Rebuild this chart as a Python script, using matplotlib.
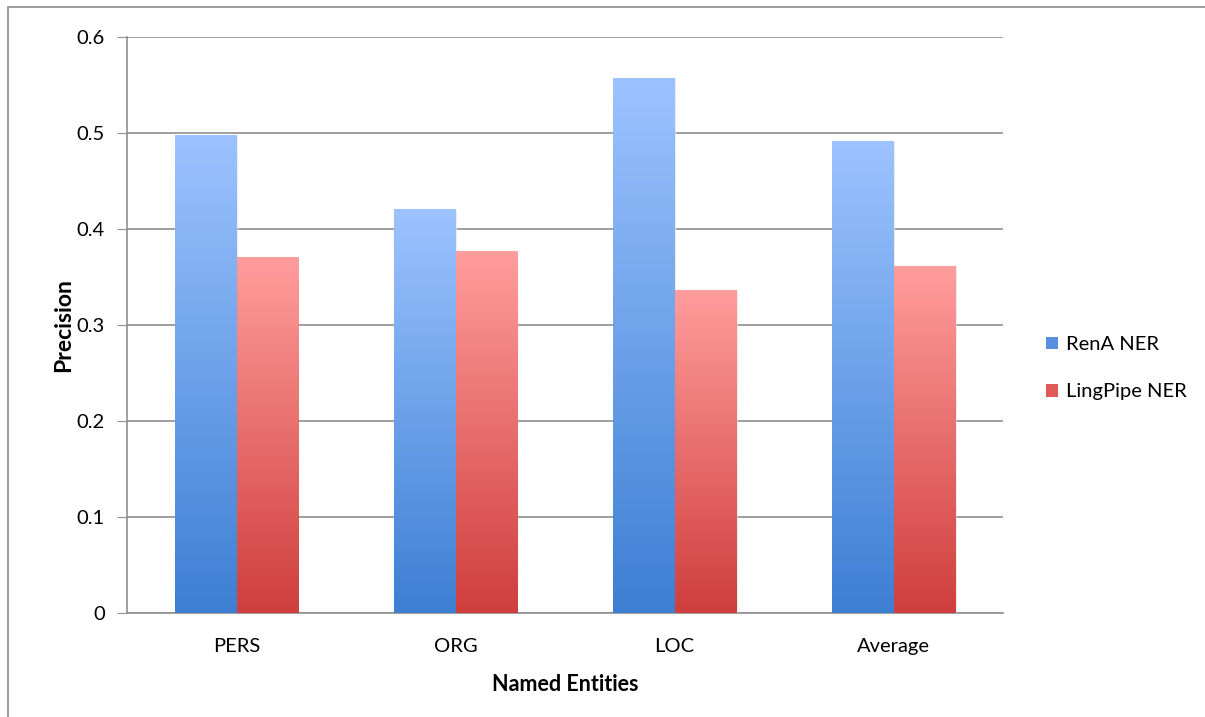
import numpy as np
import matplotlib.pyplot as plt
from matplotlib.colors import LinearSegmentedColormap
from matplotlib.patches import Rectangle

plt.rcParams['font.family'] = ['Lato', 'DejaVu Sans']

categories = ['PERS', 'ORG', 'LOC', 'Average']
rena = [0.497, 0.420, 0.557, 0.491]
lingpipe = [0.370, 0.376, 0.336, 0.361]
series_names = ['RenA NER', 'LingPipe NER']

blue_cmap = LinearSegmentedColormap.from_list('b', ['#3d7fd3', '#9cc3ff'])
red_cmap = LinearSegmentedColormap.from_list('r', ['#cf3e3d', '#ff9d9c'])

fig = plt.figure(figsize=(12.05, 7.17), dpi=100)
fig.patches.append(Rectangle((8 / 1205, -0.1), 1.2, 1 - 7 / 717 + 0.1,
                             transform=fig.transFigure, fill=False,
                             edgecolor='#8c8c8c', lw=1.2))
ax = fig.add_axes([0.1054, 0.145, 0.727, 0.8036])

x = np.arange(len(categories))
w = 0.283
grad = np.linspace(0, 1, 256).reshape(-1, 1)
for vals, offs, cmap, name, solid in [(rena, -w / 2, blue_cmap, series_names[0], '#5a8fe0'),
                                      (lingpipe, w / 2, red_cmap, series_names[1], '#e05a5a')]:
    bars = ax.bar(x + offs, vals, w, color='none', edgecolor='#e6e6e6', lw=0.5, zorder=3)
    for b in bars:
        x0, y0 = b.get_x(), b.get_y()
        ax.imshow(grad, cmap=cmap, aspect='auto', origin='lower', zorder=3.5,
                  extent=(x0, x0 + b.get_width(), y0, y0 + b.get_height()))
    ax.bar([0], [0], 0, color=solid, label=name)

ax.set_xlim(-0.5, len(categories) - 0.5)
ax.set_ylim(0, 0.6)
ax.set_yticks(np.arange(0, 0.61, 0.1))
ax.set_yticklabels(['0', '0.1', '0.2', '0.3', '0.4', '0.5', '0.6'])
ax.set_xticks(x)
ax.set_xticklabels(categories)
ax.yaxis.grid(True, color='#8f8f8f', lw=1.2, zorder=1)
ax.set_axisbelow(True)
for s in ['top', 'right']:
    ax.spines[s].set_visible(False)
for s in ['left', 'bottom']:
    ax.spines[s].set_color('#8f8f8f')
    ax.spines[s].set_linewidth(1.2)
ax.tick_params(axis='y', length=7, color='#8f8f8f', labelsize=14.5, pad=9)
ax.tick_params(axis='x', length=0, labelsize=14.5, pad=18)
ax.set_xlabel('Named Entities', fontsize=15.5, fontweight='bold', labelpad=14)
ax.set_ylabel('Precision', fontsize=16.5, fontweight='bold', labelpad=2)

ax.legend(loc='center left', bbox_to_anchor=(1.028, 0.425), frameon=False,
          fontsize=14.5, handlelength=0.6, handleheight=0.6, labelspacing=1.5,
          handletextpad=0.4)

fig.savefig('out.png', dpi=100)
